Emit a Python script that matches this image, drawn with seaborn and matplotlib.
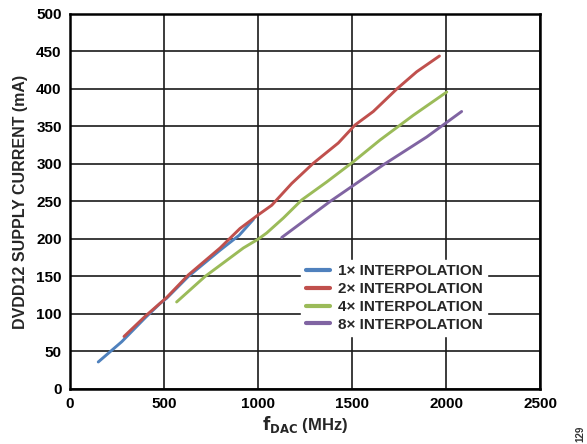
import matplotlib
matplotlib.use("Agg")
import matplotlib.pyplot as plt
import seaborn as sns
import pandas as pd

# ── data ──────────────────────────────────────────────────────────────────────
f_1x = [150, 275, 400, 479, 514, 629, 798, 900, 975]
i_1x = [36, 63, 95, 114, 121, 150, 185, 205, 226]

f_2x = [287, 400, 514, 629, 798, 904, 1000, 1073, 1179, 1294, 1427, 1516,
        1613, 1738, 1844, 1965]
i_2x = [70, 97, 122, 152, 188, 214, 232, 245, 274, 301, 328, 352,
        370, 400, 423, 444]

f_4x = [567, 718, 922, 1002, 1046, 1135, 1232, 1365, 1507, 1649, 1826, 2004]
i_4x = [116, 150, 188, 200, 208, 228, 252, 276, 303, 332, 365, 396]

f_8x = [1126, 1383, 1667, 1897, 2083]
i_8x = [202, 250, 299, 336, 370]

labels = ["1× INTERPOLATION", "2× INTERPOLATION",
          "4× INTERPOLATION", "8× INTERPOLATION"]
colors = ["#4F81BD", "#C0504D", "#9BBB59", "#8064A2"]

df = pd.concat([
    pd.DataFrame({"f": f_1x, "i": i_1x, "mode": labels[0]}),
    pd.DataFrame({"f": f_2x, "i": i_2x, "mode": labels[1]}),
    pd.DataFrame({"f": f_4x, "i": i_4x, "mode": labels[2]}),
    pd.DataFrame({"f": f_8x, "i": i_8x, "mode": labels[3]}),
], ignore_index=True)

sns.set_theme(style="white")
plt.rcParams["font.family"] = ["Liberation Sans", "DejaVu Sans"]
plt.rcParams["font.weight"] = "bold"

fig = plt.figure(figsize=(5.87, 4.44), dpi=100)
ax = fig.add_axes([0.1193, 0.1239, 0.8007, 0.8446])

sns.lineplot(data=df, x="f", y="i", hue="mode", palette=colors,
             hue_order=labels, sort=False, linewidth=2.1, ax=ax, zorder=3)

ax.set_xlim(0, 2500)
ax.set_ylim(0, 500)
ax.set_xticks(range(0, 2501, 500))
ax.set_yticks(range(0, 501, 50))
ax.grid(True, color="#1a1a1a", linewidth=1.2)
ax.set_axisbelow(True)
for s in ax.spines.values():
    s.set_color("black")
    s.set_linewidth(1.8)
ax.tick_params(axis="both", labelsize=11, colors="black", length=0, pad=6)
for lbl in ax.get_xticklabels() + ax.get_yticklabels():
    lbl.set_fontweight("bold")

ax.set_xlabel(r"$\mathbf{f_{DAC}}$ (MHz)", fontsize=12, fontweight="bold",
              labelpad=2)
ax.set_ylabel("DVDD12 SUPPLY CURRENT (mA)", fontsize=11.5, fontweight="bold",
              labelpad=6)

leg = ax.legend(loc="lower left", bbox_to_anchor=(0.475, 0.12), frameon=True,
                fontsize=11, handlelength=1.6, handletextpad=0.5,
                labelspacing=0.25, borderpad=0.3)
leg.get_frame().set_facecolor("white")
leg.get_frame().set_edgecolor("white")
leg.get_frame().set_alpha(1)
for line in leg.get_lines():
    line.set_linewidth(3)
for t in leg.get_texts():
    t.set_fontweight("bold")

fig.text(0.988, 0.005, "129", rotation=90, fontsize=7, color="#333333",
         ha="center", va="bottom")

fig.savefig("out.png", dpi=100)
